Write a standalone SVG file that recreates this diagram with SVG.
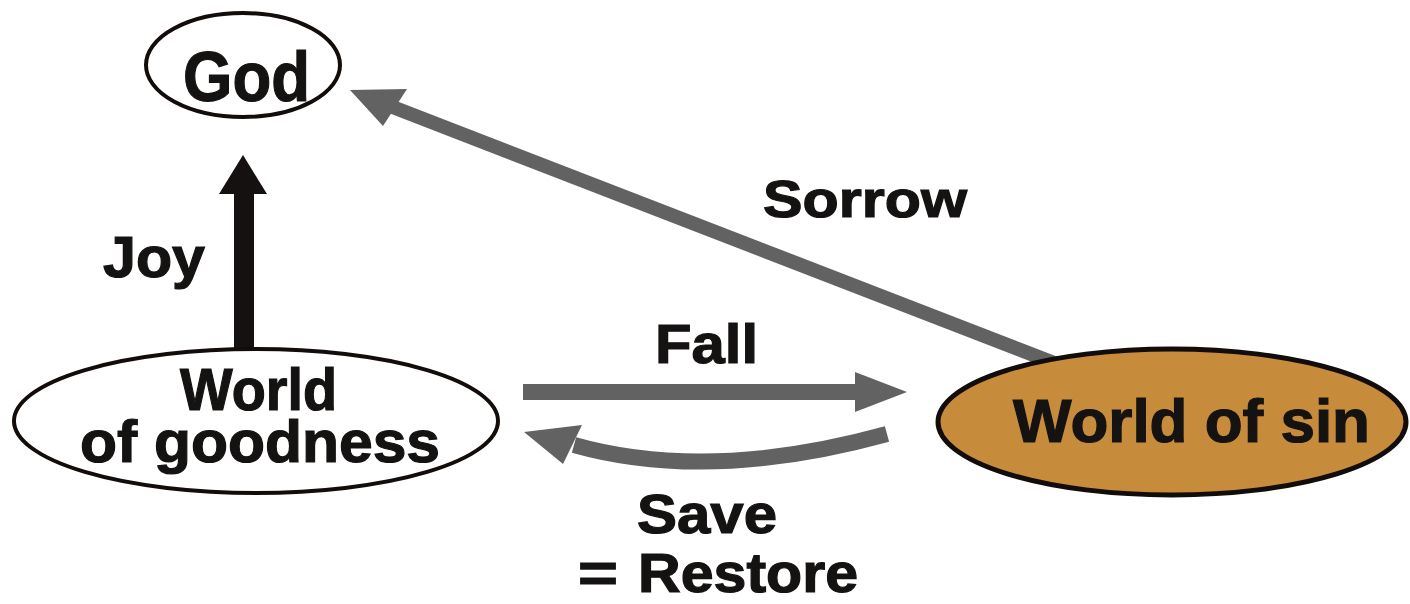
<svg xmlns="http://www.w3.org/2000/svg" width="1410" height="604" viewBox="0 0 1410 604">
  <style>
    .lbl { font-family: "Liberation Sans", Arial, sans-serif; font-weight: bold; fill: #151212; stroke: #151212; stroke-width: 1.2; }
    .gray { fill: #626262; }
    .grayline { fill: none; stroke: #626262; }
    .node { stroke: #120d0a; }
  </style>
  <rect width="1410" height="604" fill="#ffffff"/>
  <g id="connectors">
    <!-- Joy: World of goodness -> God -->
    <g id="edge-joy">
      <rect x="234" y="190" width="20" height="160" fill="#161111"/>
      <polygon points="243,155 219,194 267,194" fill="#161111"/>
      <text class="lbl" x="103" y="277" font-size="57" textLength="102" lengthAdjust="spacingAndGlyphs">Joy</text>
    </g>
    <!-- Sorrow: World of sin -> God -->
    <g id="edge-sorrow">
      <line class="grayline" x1="1062" y1="366" x2="390" y2="106" stroke-width="14"/>
      <polygon class="gray" points="350,90 407,89 383,126"/>
      <text class="lbl" x="763" y="217" font-size="52" textLength="204" lengthAdjust="spacingAndGlyphs">Sorrow</text>
    </g>
    <!-- Fall: World of goodness -> World of sin -->
    <g id="edge-fall">
      <rect class="gray" x="523" y="384" width="334" height="16"/>
      <polygon class="gray" points="855,372 907,392 855,412"/>
      <text class="lbl" x="655" y="363" font-size="56" textLength="103" lengthAdjust="spacingAndGlyphs">Fall</text>
    </g>
    <!-- Save = Restore: World of sin -> World of goodness -->
    <g id="edge-save">
      <path class="grayline" d="M 887 434 Q 709 483 574 445" stroke-width="16"/>
      <polygon class="gray" points="524,432 582,425 563,464"/>
      <text class="lbl" x="637" y="533" font-size="56" textLength="140" lengthAdjust="spacingAndGlyphs">Save</text>
      <text class="lbl" font-size="55"><tspan x="578" y="592" textLength="40" lengthAdjust="spacingAndGlyphs">=</tspan><tspan x="638" y="592" textLength="220" lengthAdjust="spacingAndGlyphs">Restore</tspan></text>
    </g>
  </g>
  <g id="node-god">
    <ellipse class="node" cx="243" cy="65" rx="97" ry="52" fill="#ffffff" stroke-width="4"/>
    <text class="lbl" x="183" y="101" font-size="71" textLength="127" lengthAdjust="spacingAndGlyphs">God</text>
  </g>
  <g id="node-world-of-goodness">
    <ellipse class="node" cx="256" cy="421" rx="242" ry="72" fill="#ffffff" stroke-width="4"/>
    <text class="lbl" x="180" y="410" font-size="60" textLength="157" lengthAdjust="spacingAndGlyphs">World</text>
    <text class="lbl" x="80" y="462" font-size="60" textLength="360" lengthAdjust="spacingAndGlyphs">of goodness</text>
  </g>
  <g id="node-world-of-sin">
    <ellipse class="node" cx="1172" cy="422" rx="234" ry="73" fill="#c68b3b" stroke-width="5"/>
    <text class="lbl" x="1013" y="442" font-size="61" textLength="357" lengthAdjust="spacingAndGlyphs">World of sin</text>
  </g>
</svg>
